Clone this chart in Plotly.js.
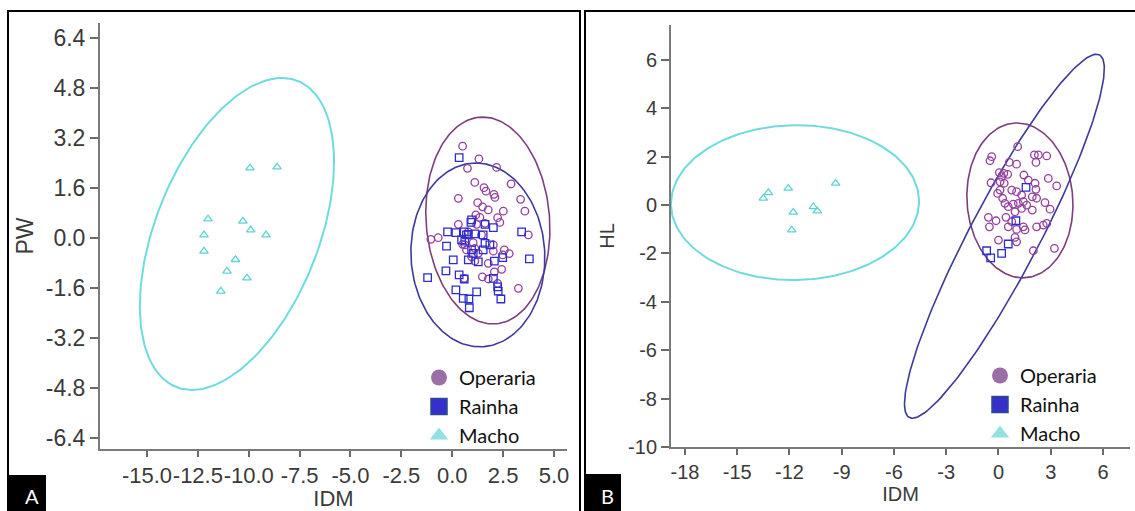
<!DOCTYPE html>
<html>
<head>
<meta charset="utf-8">
<script src="https://cdn.plot.ly/plotly-3.0.1.min.js"></script>
<style>html,body{margin:0;padding:0;background:#fff;}#chart{width:1135px;height:511px;}</style>
</head>
<body>
<div id="chart"></div>
<script>
// ---------- Panel A data (IDM vs PW) ----------
const groups = ['Operaria', 'Rainha', 'Macho'];

const aOperariaX = [0.51,1.31,0.75,2.18,1.11,2.89,1.56,1.66,2.05,2.10,0.30,3.36,1.25,1.49,1.77,2.51,3.57,1.16,1.36,2.23,2.34,0.30,1.20,1.61,3.74,-1.05,-0.69,1.03,0.62,1.11,2.02,2.56,2.80,2.48,0.95,1.11,1.77,2.43,2.07,1.48,1.77,0.59,3.25,2.23,0.79,1.44,2.02,1.28,0.70,0.51];
const aOperariaY = [2.94,2.53,2.23,2.26,1.78,1.73,1.61,1.50,1.40,1.30,1.27,1.24,1.13,1.00,0.90,0.86,0.86,0.74,0.66,0.65,0.50,0.44,0.44,0.47,0.10,-0.04,0.01,-0.15,-0.22,-0.33,-0.42,-0.38,-0.50,-0.54,-0.60,-0.74,-0.81,-1.00,-1.08,-1.24,-1.31,-1.29,-1.61,-1.45,0.20,0.10,-0.22,-0.49,-0.38,-0.20];

const aRainhaX = [0.34,-0.23,0.18,0.59,0.79,1.11,1.61,0.95,2.02,3.41,0.46,1.61,1.85,-0.28,0.95,1.03,0.79,1.28,0.05,2.07,2.48,3.79,-0.31,0.34,0.59,-1.21,2.02,2.23,2.26,2.39,0.18,0.54,0.82,1.20,0.84,0.70,1.52,0.62,0.92,1.52];
const aRainhaY = [2.57,0.20,0.17,0.20,0.12,0.13,0.44,0.58,0.33,0.20,-0.06,-0.17,-0.22,-0.26,-0.38,-0.49,-0.70,-0.76,-0.70,-0.74,-0.63,-0.67,-1.05,-1.18,-1.31,-1.27,-1.29,-1.56,-1.70,-1.95,-1.66,-1.93,-1.95,-1.72,-2.23,0.10,0.10,-0.10,0.50,-0.38];

const aMachoX = [-9.94,-8.61,-12.00,-10.29,-9.90,-12.20,-9.15,-12.20,-10.65,-11.07,-10.09,-11.37];
const aMachoY = [2.24,2.27,0.61,0.54,0.26,0.10,0.10,-0.42,-0.69,-1.06,-1.28,-1.70];

// ellipse parameters: [centre x, centre y, top-point dx, top-point dy, half-width at centre]
const aEllOperaria = [1.75, 0.56, -0.25, 3.31, 3.04];
const aEllRainha   = [1.26, -0.54, -0.10, 2.94, 3.29];
const aEllMacho    = [-10.58, 0.13, 2.21, 4.99, 4.23];

const aXTickVals = [-15, -12.5, -10, -7.5, -5, -2.5, 0, 2.5, 5];
const aXTickText = ['-15.0', '-12.5', '-10.0', '-7.5', '-5.0', '-2.5', '0.0', '2.5', '5.0'];
const aYTickVals = [-6.4, -4.8, -3.2, -1.6, 0, 1.6, 3.2, 4.8, 6.4];
const aYTickText = ['-6.4', '-4.8', '-3.2', '-1.6', '0.0', '1.6', '3.2', '4.8', '6.4'];

// ---------- Panel B data (IDM vs HL) ----------
const bOperariaX = [1.10,-0.39,-0.49,2.06,2.29,2.77,2.15,0.62,1.04,0.05,0.31,0.53,1.46,1.71,2.86,-0.43,0.09,0.33,3.34,2.10,0.09,0.76,1.04,2.15,-0.05,1.33,1.94,2.67,0.37,0.85,1.14,1.43,1.62,2.19,0.56,1.33,1.94,2.96,0.95,-0.58,-0.14,-0.52,0.43,0.76,0.56,1.04,1.43,1.52,2.19,2.57,2.77,0.00,0.95,1.04,2.00,3.21,0.24,0.18];
const bOperariaY = [2.41,2.00,1.83,2.07,2.07,2.03,1.76,1.76,1.69,1.34,1.31,1.27,1.24,1.03,1.10,0.92,0.96,0.90,0.79,0.90,0.62,0.62,0.55,0.65,0.48,0.41,0.34,0.10,0.07,0.04,0.07,0.14,0.00,0.28,-0.07,-0.14,-0.21,-0.17,-0.28,-0.51,-0.65,-0.90,-0.51,-0.69,-0.90,-1.01,-0.90,-1.03,-0.90,-0.83,-0.76,-1.45,-1.34,-1.52,-1.89,-1.79,0.28,1.17];

const bRainhaX = [1.58, 1.00, 0.56, 0.18, -0.68, -0.45];
const bRainhaY = [0.73, -0.65, -1.61, -2.00, -1.89, -2.18];

const bMachoX = [-13.50,-13.21,-12.07,-9.35,-11.78,-10.63,-10.40,-11.87];
const bMachoY = [0.28,0.51,0.69,0.90,-0.30,-0.07,-0.25,-1.03];

const bEllOperaria = [1.23, 0.19, -0.17, 3.20, 3.04];
const bEllRainha   = [0.34, -1.29, 5.28, 7.52, 2.24];
const bEllMacho    = [-11.68, 0.10, 0.11, 3.20, 7.12];

const bXTickVals = [-18, -15, -12, -9, -6, -3, 0, 3, 6];
const bXTickText = ['-18', '-15', '-12', '-9', '-6', '-3', '0', '3', '6'];
const bYTickVals = [-10, -8, -6, -4, -2, 0, 2, 4, 6];
const bYTickText = ['-10', '-8', '-6', '-4', '-2', '0', '2', '4', '6'];

// ---------- styles ----------
const ptColor  = {Operaria: '#93409c', Rainha: '#2c2cd0', Macho: '#5ed3d6'};
const ellColor = {Operaria: '#7b3e7e', Rainha: '#3d3a9e', Macho: '#6fdbdd'};
const legColor = {Operaria: '#9c6ea6', Rainha: '#3530cc', Macho: '#93e1e1'};
const symOpen  = {Operaria: 'circle-open', Rainha: 'square-open', Macho: 'triangle-up-open'};
const symFill  = {Operaria: 'circle', Rainha: 'square', Macho: 'triangle-up'};

function ellipse(p) {
  const xs = [], ys = [];
  const N = 200;
  for (let i = 0; i <= N; i++) {
    const t = 2 * Math.PI * i / N;
    xs.push(p[0] + p[2] * Math.cos(t) + p[4] * Math.sin(t));
    ys.push(p[1] + p[3] * Math.cos(t));
  }
  return {x: xs, y: ys};
}

const traces = [];
function addPanel(xa, ya, legendId, pts, ells) {
  groups.forEach((g, i) => {
    const e = ellipse(ells[i]);
    traces.push({x: e.x, y: e.y, xaxis: xa, yaxis: ya, mode: 'lines', showlegend: false, hoverinfo: 'skip',
      line: {color: ellColor[g], width: g === 'Macho' ? 2 : 1.6}});
  });
  groups.forEach((g, i) => {
    traces.push({x: pts[i][0], y: pts[i][1], xaxis: xa, yaxis: ya, mode: 'markers', name: g, showlegend: false,
      marker: {symbol: symOpen[g], size: 7.5, color: ptColor[g], line: {width: 1.3, color: ptColor[g]}}});
  });
  groups.forEach((g) => {
    traces.push({x: [null], y: [null], xaxis: xa, yaxis: ya, mode: 'markers', name: g, legend: legendId, showlegend: true,
      marker: {symbol: symFill[g], size: 16, color: legColor[g],
        line: {width: g === 'Rainha' ? 1.5 : 0, color: '#2b4a8c'}}});
  });
}
addPanel('x', 'y', 'legend', [[aOperariaX, aOperariaY], [aRainhaX, aRainhaY], [aMachoX, aMachoY]], [aEllOperaria, aEllRainha, aEllMacho]);
addPanel('x2', 'y2', 'legend2', [[bOperariaX, bOperariaY], [bRainhaX, bRainhaY], [bMachoX, bMachoY]], [bEllOperaria, bEllRainha, bEllMacho]);

const W = 1135, H = 511;
const px = v => v / W;
const py = v => (H - v) / H;

function axisStyle(fs, tl) {
  return {
    showgrid: false, zeroline: false, showline: true, linecolor: '#7a7a7a', linewidth: 2,
    ticks: 'outside', ticklen: tl, tickwidth: 2, tickcolor: '#6a6a6a', tickangle: 0,
    tickfont: {family: 'Liberation Sans, Arial, sans-serif', size: fs, color: '#3a3a3a'},
    fixedrange: true
  };
}
const titleFont = fs => ({family: 'Liberation Sans, Arial, sans-serif', size: fs, color: '#3a3a3a'});

const layout = {
  width: W, height: H,
  margin: {l: 0, r: 0, t: 0, b: 0},
  paper_bgcolor: '#ffffff', plot_bgcolor: '#ffffff',
  xaxis: Object.assign(axisStyle(22, 6), {domain: [px(100), px(567)], range: [-17.31, 5.64], anchor: 'y',
    tickmode: 'array', tickvals: aXTickVals, ticktext: aXTickText,
    title: {text: 'IDM', font: titleFont(22), standoff: 5}}),
  yaxis: Object.assign(axisStyle(23, 8), {domain: [py(449), py(23)], range: [-6.75, 6.88], anchor: 'x',
    tickmode: 'array', tickvals: aYTickVals, ticktext: aYTickText,
    title: {text: 'PW', font: titleFont(23), standoff: 6}}),
  xaxis2: Object.assign(axisStyle(20, 6), {domain: [px(671), px(1130)], range: [-18.8, 7.55], anchor: 'y2',
    tickmode: 'array', tickvals: bXTickVals, ticktext: bXTickText,
    title: {text: 'IDM', font: titleFont(20), standoff: 5}}),
  yaxis2: Object.assign(axisStyle(20, 8), {domain: [py(447), py(25)], range: [-10, 7.44], anchor: 'x2',
    tickmode: 'array', tickvals: bYTickVals, ticktext: bYTickText,
    title: {text: 'HL', font: titleFont(20), standoff: 8}}),
  legend: {x: px(419), y: py(358), xanchor: 'left', yanchor: 'top', bgcolor: 'rgba(0,0,0,0)',
    font: {family: 'Lato, Open Sans, sans-serif', size: 20, color: '#111'}},
  legend2: {x: px(980), y: py(356), xanchor: 'left', yanchor: 'top', bgcolor: 'rgba(0,0,0,0)',
    font: {family: 'Lato, Open Sans, sans-serif', size: 20, color: '#111'}},
  shapes: [
    {type: 'rect', xref: 'paper', yref: 'paper', x0: px(8), x1: px(580), y0: -0.05, y1: py(11), line: {color: '#000', width: 2}},
    {type: 'rect', xref: 'paper', yref: 'paper', x0: px(585), x1: 1.05, y0: -0.05, y1: py(11), line: {color: '#000', width: 2}},
    {type: 'rect', xref: 'paper', yref: 'paper', x0: px(9), x1: px(46), y0: -0.02, y1: py(475), fillcolor: '#000', line: {width: 0}},
    {type: 'rect', xref: 'paper', yref: 'paper', x0: px(585), x1: px(621), y0: -0.02, y1: py(474), fillcolor: '#000', line: {width: 0}}
  ],
  annotations: [
    {text: 'A', xref: 'paper', yref: 'paper', x: px(32), y: py(496), xanchor: 'center', yanchor: 'middle', showarrow: false,
      font: {family: 'Lato, Open Sans, sans-serif', size: 20, color: '#fff'}},
    {text: 'B', xref: 'paper', yref: 'paper', x: px(607), y: py(496), xanchor: 'center', yanchor: 'middle', showarrow: false,
      font: {family: 'Lato, Open Sans, sans-serif', size: 20, color: '#fff'}}
  ]
};

Plotly.newPlot('chart', traces, layout, {displayModeBar: false, staticPlot: true});
</script>
</body>
</html>
